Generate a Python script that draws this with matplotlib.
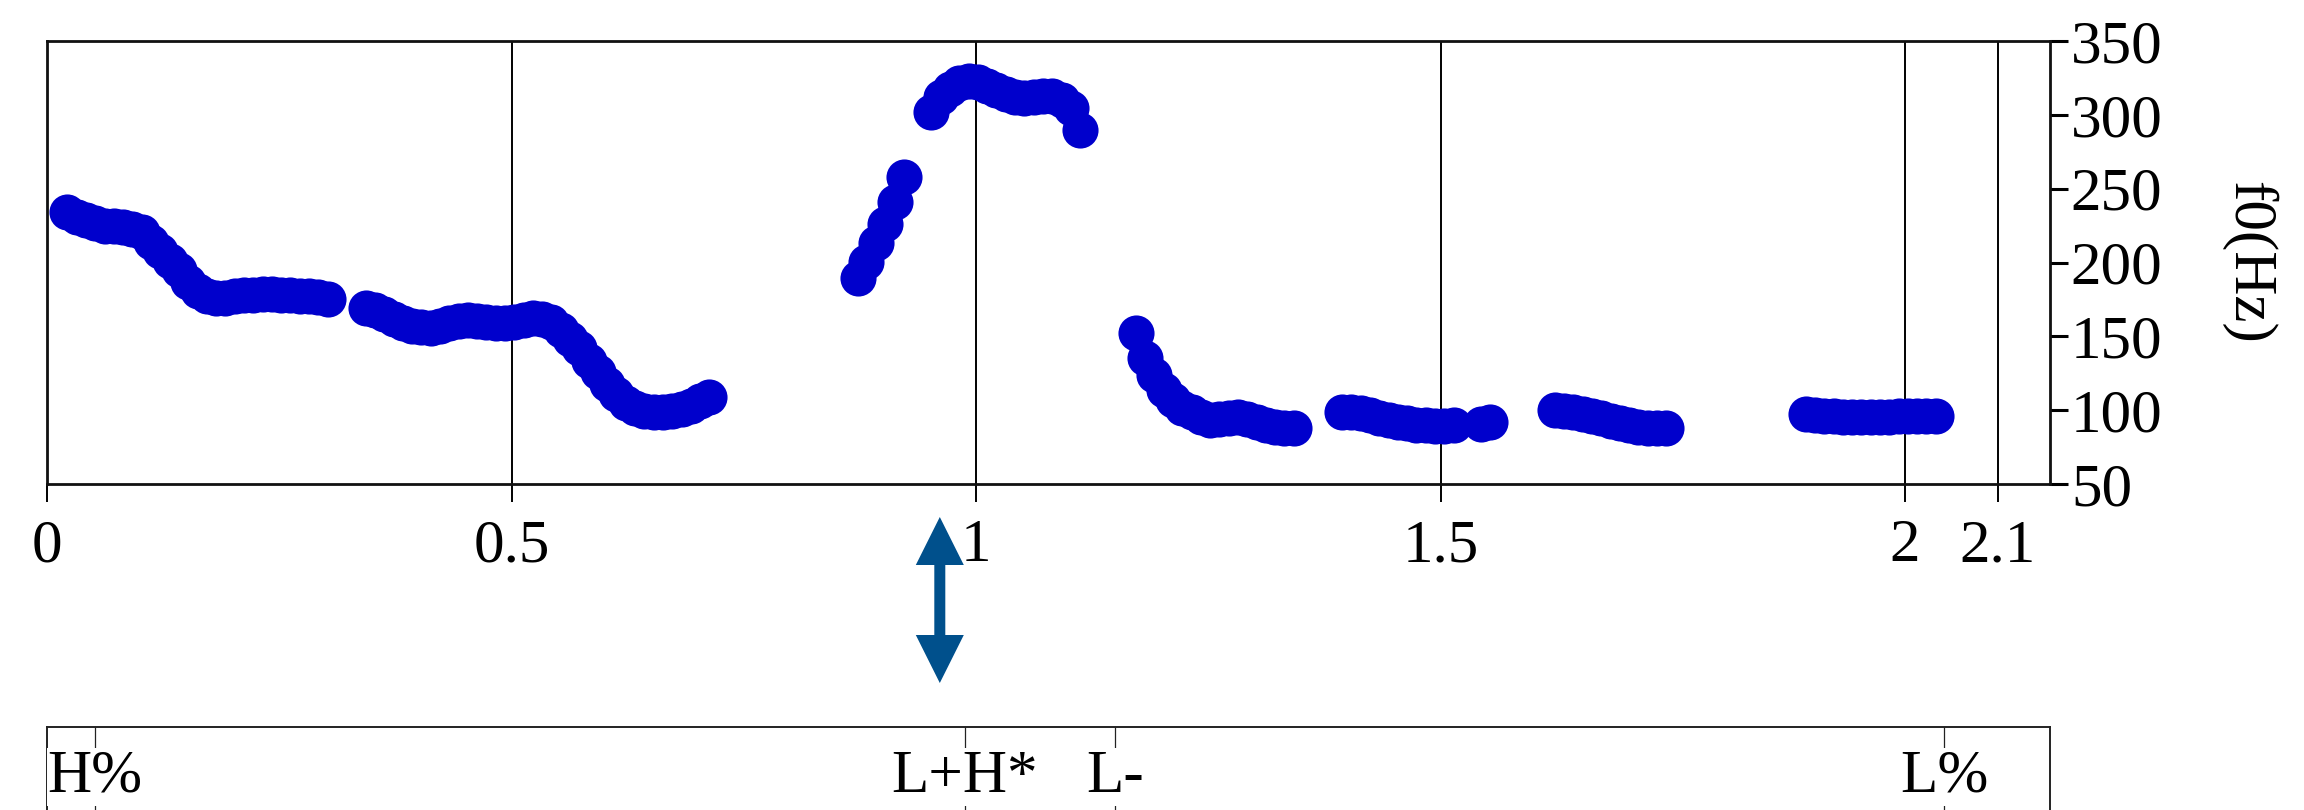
import matplotlib
matplotlib.use('Agg')
import matplotlib.pyplot as plt
from matplotlib.patches import FancyArrow
from matplotlib.transforms import IdentityTransform

# ---- data ----
f0_time = [
    # segment 1
    0.022, 0.032, 0.042, 0.052, 0.062, 0.072, 0.082, 0.092, 0.102, 0.112,
    0.122, 0.132, 0.142, 0.152, 0.162, 0.172, 0.182, 0.192, 0.202, 0.212,
    0.222, 0.232, 0.242, 0.252, 0.262, 0.272, 0.282, 0.292, 0.302,
    # segment 2
    0.343, 0.353, 0.363, 0.373, 0.383, 0.393, 0.403, 0.413, 0.423, 0.433,
    0.443, 0.453, 0.463, 0.473, 0.483, 0.493, 0.503, 0.513, 0.523, 0.533,
    0.543, 0.553, 0.563, 0.573, 0.583, 0.593, 0.603, 0.613, 0.623, 0.633,
    0.643, 0.653, 0.663, 0.673, 0.683, 0.693, 0.703, 0.713,
    # segment 3
    0.873, 0.882, 0.892, 0.902, 0.913, 0.922,
    # segment 4
    0.952, 0.962, 0.972, 0.982, 0.992, 1.002, 1.012, 1.022, 1.032, 1.042,
    1.052, 1.062, 1.072, 1.082, 1.092, 1.102, 1.112,
    # segment 5
    1.172, 1.182, 1.192, 1.202, 1.212, 1.222, 1.232, 1.242, 1.252, 1.262,
    1.272, 1.282, 1.292, 1.302, 1.312, 1.322, 1.332, 1.342,
    # segment 6
    1.394, 1.404, 1.414, 1.424, 1.434, 1.444, 1.454, 1.464, 1.474, 1.484,
    1.494, 1.504, 1.514,
    # segment 7
    1.544, 1.553,
    # segment 8
    1.623, 1.633, 1.643, 1.653, 1.663, 1.673, 1.683, 1.693, 1.703, 1.713,
    1.723, 1.733, 1.743,
    # segment 9
    1.893, 1.903, 1.913, 1.923, 1.933, 1.943, 1.953, 1.963, 1.973, 1.983,
    1.993, 2.003, 2.013, 2.023, 2.033,
]
f0_hz = [
    234.4, 231.0, 228.5, 226.5, 225.0, 224.5, 224.3, 223.0, 220.5, 214.0,
    208.0, 201.0, 195.0, 187.0, 181.0, 177.0, 175.8, 176.0, 177.0, 177.8,
    178.3, 178.5, 178.5, 178.2, 178.0, 177.6, 177.2, 176.5, 175.5,
    169.0, 167.5, 165.0, 162.0, 159.0, 157.0, 156.0, 155.8, 157.0, 159.0,
    160.5, 161.0, 160.5, 159.5, 159.3, 159.0, 159.5, 161.0, 162.2, 162.0,
    160.0, 154.5, 148.0, 142.0, 133.0, 126.0, 118.0, 111.0, 105.0, 101.5,
    99.5, 99.0, 99.0, 99.5, 100.5, 103.0, 106.0, 109.2,
    189.3, 200.6, 213.0, 226.1, 241.2, 258.1,
    301.7, 312.0, 317.5, 321.5, 323.0, 322.5, 319.5, 316.5, 314.0, 312.0,
    311.5, 312.0, 313.0, 312.5, 310.0, 304.5, 289.7,
    152.5, 135.1, 123.8, 113.7, 106.9, 101.5, 98.5, 95.5, 93.5, 94.0,
    95.0, 95.2, 94.0, 91.8, 89.8, 88.3, 87.7, 87.7,
    99.0, 98.8, 97.9, 96.5, 95.0, 93.5, 92.0, 91.0, 90.2, 89.7,
    89.4, 89.3, 89.8,
    90.8, 91.8,
    99.9, 99.5, 98.8, 97.7, 96.3, 94.8, 93.0, 91.3, 90.0, 88.8,
    88.2, 87.9, 87.9,
    97.5, 96.8, 96.2, 95.8, 95.5, 95.3, 95.3, 95.4, 95.5, 95.6,
    95.8, 95.9, 96.0, 96.0, 95.9,
]
x_ticks = [0, 0.5, 1, 1.5, 2, 2.1]
x_tick_labels = ['0', '0.5', '1', '1.5', '2', '2.1']
y_ticks = [50, 100, 150, 200, 250, 300, 350]
tone_times = [0.052, 0.988, 1.150, 2.042]
tone_labels = ['H%', 'L+H*', 'L-', 'L%']
arrow_time = 0.961

plt.rcParams['font.family'] = ['Liberation Serif', 'DejaVu Serif']
FS = 44

W, H = 2304, 810
fig = plt.figure(figsize=(W / 100, H / 100), dpi=100)

# ---- main f0 axes ----
ax = fig.add_axes([47 / W, 1 - 484 / H, (2050 - 47) / W, (484 - 41) / H])
ax.scatter(f0_time, f0_hz, s=26 ** 2, color='#0000CC', linewidths=0, zorder=3)
ax.set_xlim(0, 2.156)
ax.set_ylim(50, 350)
ax.set_xticks(x_ticks)
ax.set_xticklabels(x_tick_labels)
ax.set_yticks(y_ticks)
ax.xaxis.grid(True, color='black', linewidth=1.4, zorder=1)
ax.set_axisbelow(True)
ax.yaxis.tick_right()
ax.tick_params(axis='x', direction='out', length=13, width=1.4, pad=12,
               labelsize=FS, colors='black')
ax.tick_params(axis='y', direction='out', length=13, width=2.2, pad=2,
               labelsize=FS, left=False, right=True,
               labelleft=False, labelright=True)
for s in ax.spines.values():
    s.set_linewidth(2.0)
    s.set_color('#111111')
ax.yaxis.set_label_position('right')
ax.set_ylabel('f0(Hz)', rotation=270, fontsize=FS, labelpad=82)

# ---- tone tier axes ----
ax2 = fig.add_axes([47 / W, 0, (2050 - 47) / W, 83 / H])
ax2.set_xlim(0, 2.156)
ax2.set_ylim(0, 1)
ax2.set_xticks([])
ax2.set_yticks([])
ax2.spines['bottom'].set_visible(False)
for k in ['top', 'left', 'right']:
    ax2.spines[k].set_linewidth(1.4)
    ax2.spines[k].set_color('#222222')
for t, lab in zip(tone_times, tone_labels):
    ax2.axvline(t, color='#222222', linewidth=0.9, zorder=1)
    ax2.text(t, 0.217, lab, ha='center', va='baseline', fontsize=FS, zorder=3,
             bbox=dict(facecolor='white', edgecolor='none', pad=1))

# ---- double-headed arrow between the panels ----
fig.canvas.draw()
x_px = ax.transData.transform((arrow_time, 50))[0]
y_mid, half = 210, 83
for sign in (1, -1):
    fig.add_artist(FancyArrow(x_px, y_mid, 0, sign * half, width=11,
                              head_width=48, head_length=48,
                              length_includes_head=True,
                              transform=IdentityTransform(),
                              color='#00508C', linewidth=0))

fig.savefig('out.png', dpi=100)
